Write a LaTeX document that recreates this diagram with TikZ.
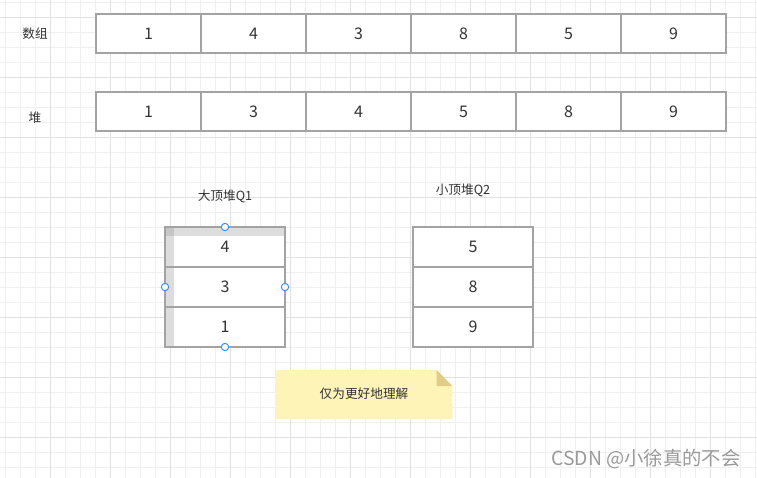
\documentclass[tikz,border=0pt]{standalone}
\usepackage{fontspec}
\setmainfont{Noto Sans CJK SC}
\definecolor{gridlight}{HTML}{F0F0F0}
\definecolor{griddark}{HTML}{E2E2E2}
\definecolor{boxgray}{HTML}{A3A3A3}
\definecolor{txt}{HTML}{333333}
\definecolor{stripgray}{HTML}{DDDDDD}
\definecolor{cornergray}{HTML}{C6C6C6}
\definecolor{handle}{HTML}{2F8CFF}
\definecolor{notefill}{HTML}{FFF4B8}
\definecolor{notefold}{HTML}{E2CD88}
\definecolor{wm}{HTML}{9A9A9A}
\tikzset{
  cell/.style={draw=boxgray, line width=0.9pt, fill=white, minimum width=78.75pt, minimum height=29.25pt, inner sep=0pt, outer sep=0pt, text=txt, font=\fontsize{12}{14}\selectfont},
  qcell/.style={cell, minimum width=90pt, minimum height=30pt},
  lbl/.style={text=txt, inner sep=0pt, font=\fontsize{9.5}{11}\selectfont},
  hdl/.style={circle, draw=handle, fill=white, line width=0.7pt, minimum size=5.5pt, inner sep=0pt}
}
\begin{document}
\begin{tikzpicture}[x=0.75pt, y=-0.75pt]
\useasboundingbox (0,0) rectangle (757,478);
\fill[white] (0,0) rectangle (757,478);
% grid
\foreach \k in {0,...,50} {\draw[gridlight, line width=0.75pt] ({5+15*\k},0) -- ({5+15*\k},478);}
\foreach \k in {0,...,31} {\draw[gridlight, line width=0.75pt] (0,{2.3+15*\k}) -- (757,{2.3+15*\k});}
\foreach \k in {0,...,12} {\draw[griddark, line width=0.75pt] ({50+60*\k},0) -- ({50+60*\k},478);}
\foreach \k in {0,...,7} {\draw[griddark, line width=0.75pt] (0,{17.3+60*\k}) -- (757,{17.3+60*\k});}

% labels
\node[lbl] (larr) at (35,34) {数组};
\node[lbl] (lheap) at (35,118) {堆};

% array row
\foreach \v [count=\i] in {1,4,3,8,5,9} {
  \node[cell] (a\i) at ({96+52.5+105*(\i-1)},33.5) {\v};
}
% heap row
\foreach \v [count=\i] in {1,3,4,5,8,9} {
  \node[cell] (h\i) at ({96+52.5+105*(\i-1)},111.5) {\v};
}

% Q1
\node[lbl] (q1l) at (225,196) {大顶堆Q1};
\node[qcell] (q1a) at (225,247) {};
\node[qcell] (q1b) at (225,287) {};
\node[qcell] (q1c) at (225,327) {};
\fill[stripgray] (165,227) rectangle (285,236);
\fill[stripgray] (165,227) rectangle (174,347);
\fill[cornergray] (165,227) rectangle (174,236);
\draw[boxgray, line width=0.9pt] (q1a.north west) rectangle (q1c.south east);
\draw[boxgray, line width=0.9pt] (q1a.south west) -- (q1a.south east);
\draw[boxgray, line width=0.9pt] (q1b.south west) -- (q1b.south east);
\node[text=txt, font=\fontsize{12}{14}\selectfont] at (q1a) {4};
\node[text=txt, font=\fontsize{12}{14}\selectfont] at (q1b) {3};
\node[text=txt, font=\fontsize{12}{14}\selectfont] at (q1c) {1};
\node[hdl] (hn) at (q1a.north) {};
\node[hdl] (hw) at (q1b.west) {};
\node[hdl] (he) at (q1b.east) {};
\node[hdl] (hs) at (q1c.south) {};

% Q2
\node[lbl] (q2l) at (463,190) {小顶堆Q2};
\node[qcell] (q2a) at (473,247) {5};
\node[qcell] (q2b) at (473,287) {8};
\node[qcell] (q2c) at (473,327) {9};

% note
\fill[notefill] (275.5,370) -- (436.7,370) -- (452.3,386) -- (452.3,419) -- (275.5,419) -- cycle;
\fill[notefold] (436.7,370) -- (452.3,386) -- (436.7,386) -- cycle;
\node[lbl] (note) at (364,394) {仅为更好地理解};

% watermark
\node[text=wm, inner sep=0pt, font=\fontsize{14.5}{16}\selectfont] (wmk) at (646,459) {CSDN @小徐真的不会};
\end{tikzpicture}
\end{document}
